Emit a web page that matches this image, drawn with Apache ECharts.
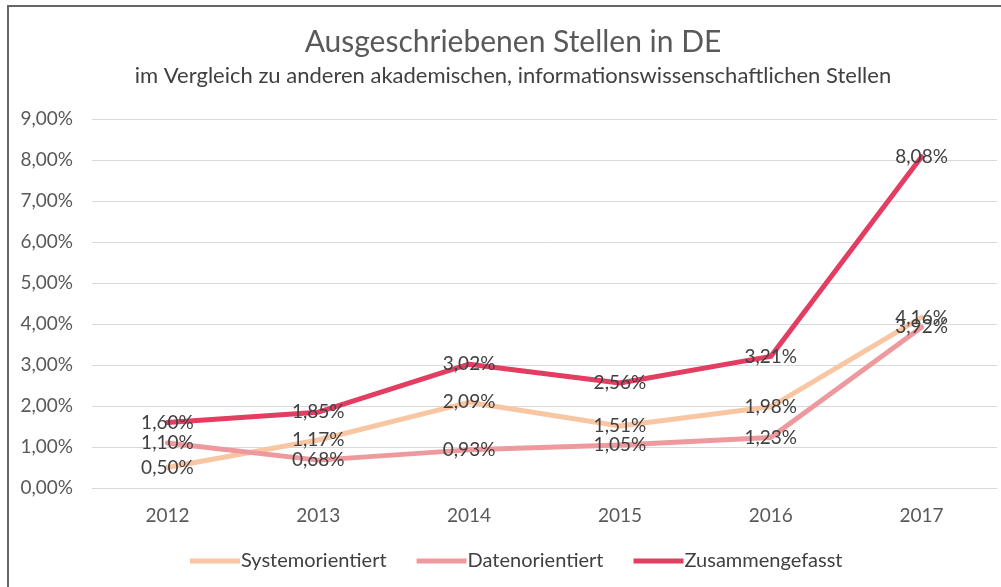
<!DOCTYPE html>
<html>
<head>
<meta charset="utf-8">
<script src="https://cdn.jsdelivr.net/npm/echarts@6/dist/echarts.min.js"></script>
<style>
  html, body { margin: 0; padding: 0; background: #fff; }
  #frame { position: absolute; left: 7px; top: 5px; width: 994px; height: 582px;
           border-left: 2px solid #666; border-top: 2px solid #666; box-sizing: border-box; }
  #chart { position: absolute; left: 0; top: 0; width: 1001px; height: 587px; }
</style>
</head>
<body>
<div id="frame"></div>
<div id="chart"></div>
<script>
// Daten (in Prozent)
var jahre = ['2012', '2013', '2014', '2015', '2016', '2017']
var systemorientiert = [0.50, 1.17, 2.09, 1.51, 1.98, 4.16]
var datenorientiert = [1.10, 0.68, 0.93, 1.05, 1.23, 3.92]
var zusammengefasst = [1.60, 1.85, 3.02, 2.56, 3.21, 8.08]
var serienNamen = ['Systemorientiert', 'Datenorientiert', 'Zusammengefasst']
var farben = ['#f8c6a2', '#ee999d', '#e33d62']

function pct(v) {
  return v.toFixed(2).replace('.', ',') + '%'
}

var myChart = echarts.init(document.getElementById('chart'))

function serie(name, data, color) {
  return {
    name: name,
    type: 'line',
    data: data,
    symbol: 'circle',
    symbolSize: 0,
    showSymbol: true,
    lineStyle: { width: 5, color: color, cap: 'round', join: 'round' },
    itemStyle: { color: color },
    label: {
      show: true,
      position: 'inside',
      color: '#404040',
      fontFamily: 'Lato',
      fontSize: 19,
      formatter: function (p) { return pct(p.value) }
    },
    labelLayout: { hideOverlap: false },
    emphasis: { disabled: true }
  }
}

var option = {
  animation: false,
  color: farben,
  title: {
    text: 'Ausgeschriebenen Stellen in DE',
    subtext: 'im Vergleich zu anderen akademischen, informationswissenschaftlichen Stellen',
    left: 508,
    textAlign: 'center',
    top: 22,
    itemGap: 8,
    textStyle: { fontFamily: 'Lato', fontSize: 30, fontWeight: 'normal', color: '#595959' },
    subtextStyle: { fontFamily: 'Lato', fontSize: 22, color: '#404040' }
  },
  legend: {
    data: serienNamen,
    bottom: 11,
    left: 185,
    icon: 'rect',
    itemWidth: 50,
    itemHeight: 5,
    itemGap: 30,
    textStyle: { fontFamily: 'Lato', fontSize: 20, color: '#404040', padding: [0, 0, 0, -4] }
  },
  grid: { left: 92, right: 4, top: 119, bottom: 99, containLabel: false },
  xAxis: {
    type: 'category',
    data: jahre,
    boundaryGap: true,
    axisLine: { show: true, lineStyle: { color: '#d9d9d9' } },
    axisTick: { show: false },
    axisLabel: { fontFamily: 'Lato', fontSize: 19, color: '#595959', margin: 18 }
  },
  yAxis: {
    type: 'value',
    min: 0,
    max: 9,
    interval: 1,
    axisLine: { show: false },
    axisTick: { show: false },
    splitLine: { lineStyle: { color: '#d9d9d9', width: 1 } },
    axisLabel: {
      fontFamily: 'Lato', fontSize: 19, color: '#595959', margin: 19,
      formatter: function (v) { return pct(v) }
    }
  },
  series: [
    serie(serienNamen[0], systemorientiert, farben[0]),
    serie(serienNamen[1], datenorientiert, farben[1]),
    serie(serienNamen[2], zusammengefasst, farben[2])
  ]
}

myChart.setOption(option)
</script>
</body>
</html>
